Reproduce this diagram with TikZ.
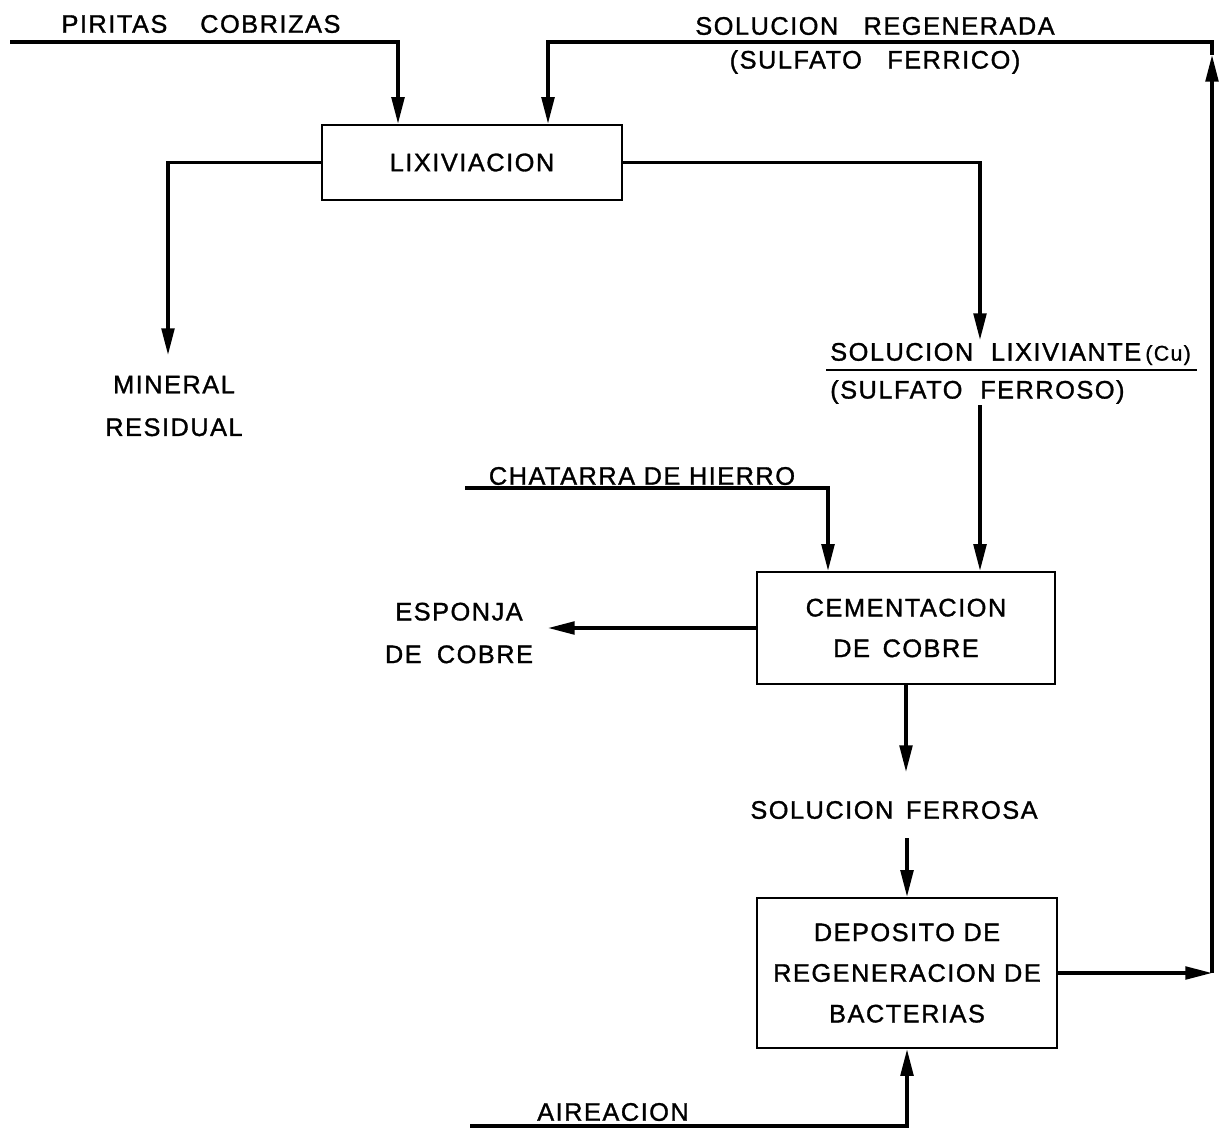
\documentclass[tikz,border=0pt]{standalone}
\usepackage{fontspec}
\setmainfont{Liberation Sans}[LetterSpace=6,FakeBold=1.2]
\usetikzlibrary{arrows.meta}
\begin{document}
\begin{tikzpicture}[x=0.75pt,y=-0.75pt,
  flow/.style={line width=2.5pt},
  arr/.style={flow,-{Triangle[length=20pt,width=9.5pt]}},
  proc/.style={draw,line width=1.7pt,inner sep=0pt,align=center,font=\fontsize{19}{30.5}\selectfont},
  lbl/.style={inner sep=0pt,align=center,font=\fontsize{19}{32}\selectfont}]
\useasboundingbox (0,0) rectangle (1220,1131);

% process boxes
\node[proc,minimum width=225pt,minimum height=56.25pt] (lix) at (472,162.5) {LIXIVIACION};
\node[proc,minimum width=223.5pt,minimum height=84pt] (cem) at (906,628) {CEMENTACION\\DE\hspace{0.5em}COBRE};
\node[proc,minimum width=225pt,minimum height=112.5pt] (dep) at (907,973) {DEPOSITO DE\\REGENERACION DE\\BACTERIAS};

% labels
\node[lbl] (pir) at (201,24) {PIRITAS\hspace{1.3em}COBRIZAS};
\node[lbl] (reg) at (875,26) {SOLUCION\hspace{1em}REGENERADA};
\node[lbl] (fer) at (875,62) {(SULFATO\hspace{1em}FERRICO)};
\node[lbl] (min) at (174,406) {MINERAL\\RESIDUAL};
\node[lbl,anchor=west] (lixs) at (830,354) {SOLUCION\hspace{0.7em}LIXIVIANTE\,{\fontsize{16}{18}\selectfont(Cu)}};
\node[lbl,anchor=west] (sfe) at (830,392) {(SULFATO\hspace{0.7em}FERROSO)};
\node[lbl] (cha) at (642,476) {CHATARRA DE HIERRO};
\node[lbl] (esp) at (459,633) {ESPONJA\\DE\hspace{0.6em}COBRE};
\node[lbl] (sfr) at (894,810) {SOLUCION\hspace{0.5em}FERROSA};
\node[lbl] (air) at (613,1112) {AIREACION};

% underline of the leach solution
\draw[line width=1.4pt] (826,370) -- (1197,370);

% free ends
\coordinate (pirS) at (10,42);
\coordinate (pirK) at (398,42);
\coordinate (regK) at (1212,42);
\coordinate (regL) at (548,42);
\coordinate (regT) at (1212,55);
\coordinate (minE) at (168,355);
\coordinate (lxE) at (980,340);
\coordinate (sfB) at (980,405);
\coordinate (chS) at (465,488);
\coordinate (chK) at (828,488);
\coordinate (espE) at (548,628);
\coordinate (cfE) at (906,772);
\coordinate (sfT) at (907,838);
\coordinate (airS) at (470,1126);

% connectors
\draw[arr] (pirS) -- (pirK) -- (pirK |- lix.north);
\draw[arr] (dep.east) -- (dep.east -| regK);
\draw[arr] (dep.east -| regK) -- (regT);
\draw[arr] (regT) -- (regK) -- (regL) -- (regL |- lix.north);
\draw[arr] (lix.west) -| (minE);
\draw[arr] (lix.east) -| (lxE);
\draw[arr] (sfB) -- (sfB |- cem.north);
\draw[arr] (chS) -- (chK) -- (chK |- cem.north);
\draw[arr] (cem.west) -- (espE);
\draw[arr] (cem.south) -- (cfE);
\draw[arr] (sfT) -- (dep.north);
\draw[arr] (airS) -| (dep.south);
\end{tikzpicture}
\end{document}
